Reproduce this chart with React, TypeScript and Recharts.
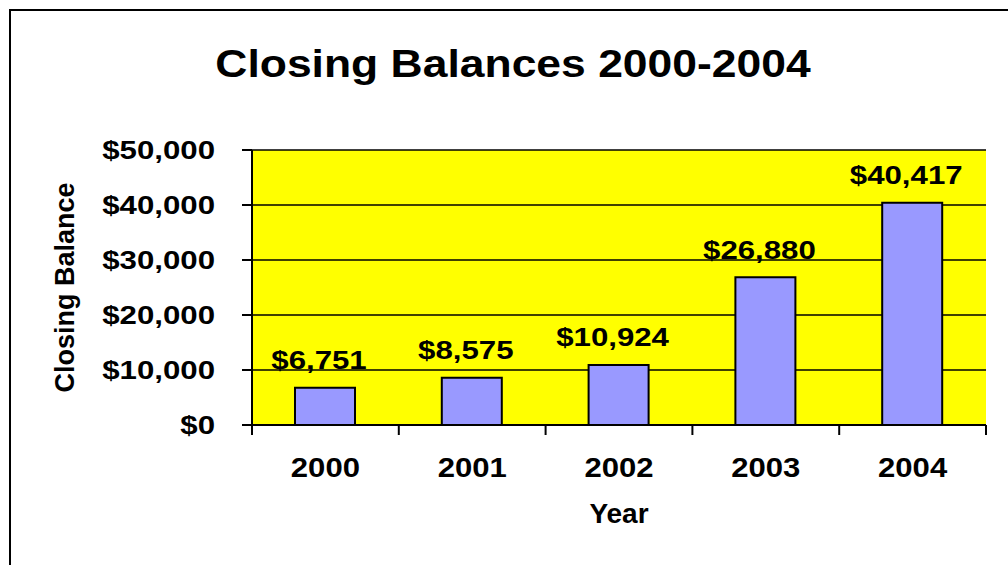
import React from 'react';
import { BarChart, Bar, XAxis, YAxis, CartesianGrid, LabelList, Label } from 'recharts';

const years = ['2000', '2001', '2002', '2003', '2004'];
const balances = [6751, 8575, 10924, 26880, 40417];
const yTicks = [0, 10000, 20000, 30000, 40000, 50000];

const data = years.map((year, i) => ({ year, balance: balances[i] }));

const FONT = '"Liberation Sans", Arial, sans-serif';
const money = (v: number) => `$${v.toLocaleString('en-US')}`;

function YTick({ x, y, payload }: any) {
  return (
    <text
      transform={`translate(${x},${y}) scale(1.2,1)`}
      textAnchor="end"
      dy="0.36em"
      fontFamily={FONT}
      fontWeight="bold"
      fontSize={26}
      fill="#000"
    >
      {money(payload.value)}
    </text>
  );
}

function XTick({ x, y, payload, index }: any) {
  const half = payload.offset ?? 0;
  const axisY = y - 32;
  return (
    <g>
      <line x1={x - half} x2={x - half} y1={axisY} y2={axisY + 10} stroke="#000" strokeWidth={2} />
      {index === years.length - 1 && (
        <line x1={x + half} x2={x + half} y1={axisY} y2={axisY + 10} stroke="#000" strokeWidth={2} />
      )}
      <text
        transform={`translate(${x},${y + 20}) scale(1.11,1)`}
        textAnchor="middle"
        fontFamily={FONT}
        fontWeight="bold"
        fontSize={28}
        fill="#000"
      >
        {payload.value}
      </text>
    </g>
  );
}

function ValueLabel({ x, y, width, value }: any) {
  return (
    <text
      transform={`translate(${x + width / 2 - 6},${y - 18.5}) scale(1.2,1)`}
      textAnchor="middle"
      fontFamily={FONT}
      fontWeight="bold"
      fontSize={26}
      fill="#000"
    >
      {money(value)}
    </text>
  );
}

function YTitle({ viewBox }: any) {
  const cx = viewBox.x + 34;
  const cy = viewBox.y + viewBox.height / 2;
  return (
    <text
      x={cx}
      y={cy}
      transform={`rotate(-90, ${cx}, ${cy})`}
      textAnchor="middle"
      fontFamily={FONT}
      fontWeight="bold"
      fontSize={27}
      fill="#000"
    >
      Closing Balance
    </text>
  );
}

function XTitle({ viewBox }: any) {
  return (
    <text
      x={viewBox.x + viewBox.width / 2}
      y={viewBox.y + 98}
      textAnchor="middle"
      fontFamily={FONT}
      fontWeight="bold"
      fontSize={28}
      fill="#000"
    >
      Year
    </text>
  );
}

export default function App() {
  return (
    <div style={{ position: 'fixed', left: 0, top: 0, width: 1008, height: 565, overflow: 'hidden', background: '#fff' }}>
      <div
        style={{
          position: 'absolute',
          left: 9,
          top: 9,
          width: 1100,
          height: 700,
          borderLeft: '2px solid #000',
          borderTop: '2px solid #000',
        }}
      />
      <svg width={1008} height={120} style={{ position: 'absolute', left: 0, top: 0 }}>
        <text
          transform="translate(513,77) scale(1.17,1)"
          textAnchor="middle"
          fontFamily={FONT}
          fontWeight="bold"
          fontSize={38}
          fill="#000"
        >
          Closing Balances 2000-2004
        </text>
      </svg>
      <div style={{ position: 'absolute', left: 0, top: 0 }}>
        <BarChart width={1008} height={565} data={data} margin={{ top: 150, right: 22, bottom: 30, left: 40 }}>
          <CartesianGrid
            vertical={false}
            fill="#ffff00"
            fillOpacity={1}
            stroke="#000"
            strokeWidth={1.5}
          />
          <XAxis
            dataKey="year"
            height={110}
            tickLine={false}
            tickSize={10}
            tickMargin={22}
            axisLine={{ stroke: '#000', strokeWidth: 2 }}
            tick={<XTick />}
            interval={0}
          >
            <Label content={<XTitle />} />
          </XAxis>
          <YAxis
            width={212}
            domain={[0, 50000]}
            ticks={yTicks}
            interval={0}
            tickSize={10}
            tickMargin={27}
            tickLine={{ stroke: '#000', strokeWidth: 2 }}
            axisLine={{ stroke: '#000', strokeWidth: 2 }}
            tick={<YTick />}
          >
            <Label content={<YTitle />} />
          </YAxis>
          <Bar dataKey="balance" barSize={60} fill="#9999ff" stroke="#000" strokeWidth={2} isAnimationActive={false}>
            <LabelList dataKey="balance" content={<ValueLabel />} />
          </Bar>
        </BarChart>
      </div>
    </div>
  );
}
